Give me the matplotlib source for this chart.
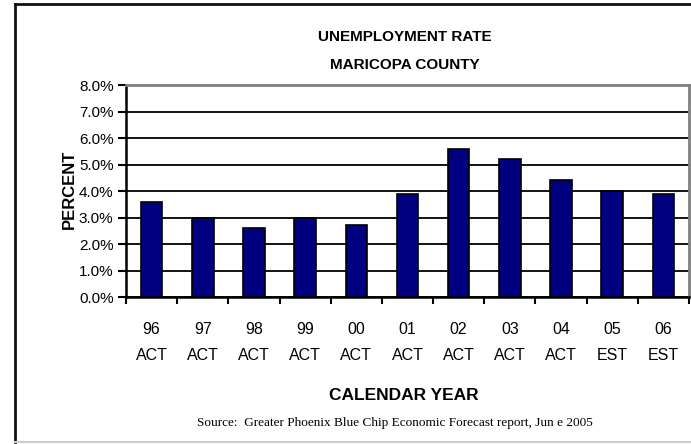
import matplotlib
matplotlib.use('Agg')
import matplotlib.pyplot as plt
import matplotlib.transforms as mtransforms
from matplotlib.lines import Line2D
import numpy as np

years = ['96', '97', '98', '99', '00', '01', '02', '03', '04', '05', '06']
status = ['ACT', 'ACT', 'ACT', 'ACT', 'ACT', 'ACT', 'ACT', 'ACT', 'ACT', 'EST', 'EST']
rate = [3.6, 3.0, 2.6, 3.0, 2.7, 3.9, 5.6, 5.2, 4.4, 4.0, 3.9]
yticks = [0, 1, 2, 3, 4, 5, 6, 7, 8]

plt.rcParams['font.family'] = ['Liberation Sans Narrow', 'Liberation Sans', 'DejaVu Sans']

W, H = 691.0, 444.0
fig = plt.figure(figsize=(W / 100, H / 100), dpi=100)
ax = fig.add_axes([126 / W, 1 - 297 / H, (689 - 126) / W, (297 - 85) / H])

x = np.arange(len(rate))
ax.bar(x, rate, width=0.42, color='#000080', edgecolor='black', linewidth=1.2, zorder=3)

ax.set_xlim(-0.5, len(rate) - 0.5)
ax.set_ylim(0, 8)
ax.set_yticks(yticks)
ax.set_yticklabels(['%.1f%%' % v for v in yticks], fontsize=11)
ax.yaxis.grid(True, color='black', linewidth=1.3, zorder=1)
ax.set_axisbelow(True)

# tick marks between the categories
ax.set_xticks(np.arange(len(rate) + 1) - 0.5)
ax.set_xticklabels([])
ax.tick_params(axis='x', direction='out', length=5, width=1.5)
ax.tick_params(axis='y', direction='out', length=6, width=1.5, pad=3)

# two-line category labels: x from the data, y in figure pixels
trans = mtransforms.blended_transform_factory(ax.transData, fig.transFigure)
for i in x:
    ax.text(i, 1 - 330 / H, years[i], transform=trans, ha='center', va='center',
            fontsize=11.5, clip_on=False)
    ax.text(i, 1 - 355 / H, status[i], transform=trans, ha='center', va='center',
            fontsize=11.5, clip_on=False)

for side in ['left', 'bottom']:
    ax.spines[side].set_linewidth(1.8)
    ax.spines[side].set_color('black')
for side in ['top', 'right']:
    ax.spines[side].set_linewidth(2)
    ax.spines[side].set_color('#808080')

fig.text(69 / W, 1 - 189 / H, 'PERCENT', rotation=90, ha='center', va='center',
         fontsize=12, fontweight='bold')
fig.text(405 / W, 1 - 37 / H, 'UNEMPLOYMENT RATE', ha='center', va='center',
         fontsize=11, fontweight='bold')
fig.text(405 / W, 1 - 65 / H, 'MARICOPA COUNTY', ha='center', va='center',
         fontsize=11, fontweight='bold')
fig.text(404 / W, 1 - 395 / H, 'CALENDAR YEAR', ha='center', va='center',
         fontsize=12.5, fontweight='bold')
fig.text(395 / W, 1 - 423 / H,
         'Source:  Greater Phoenix Blue Chip Economic Forecast report, Jun e 2005',
         ha='center', va='center', fontsize=9.5,
         family=['Liberation Serif', 'DejaVu Serif'])

# outer frame: dark top and left, light bottom, runs off the right edge
fig.lines.append(Line2D([15 / W, 1], [1 - 4.5 / H, 1 - 4.5 / H], transform=fig.transFigure,
                        color='#111111', linewidth=2))
fig.lines.append(Line2D([15 / W, 15 / W], [1 - 4.5 / H, 1 - 442 / H], transform=fig.transFigure,
                        color='#111111', linewidth=2))
fig.lines.append(Line2D([15 / W, 1], [1 - 442 / H, 1 - 442 / H], transform=fig.transFigure,
                        color='#cccccc', linewidth=1.5))

fig.savefig('out.png', dpi=100)
